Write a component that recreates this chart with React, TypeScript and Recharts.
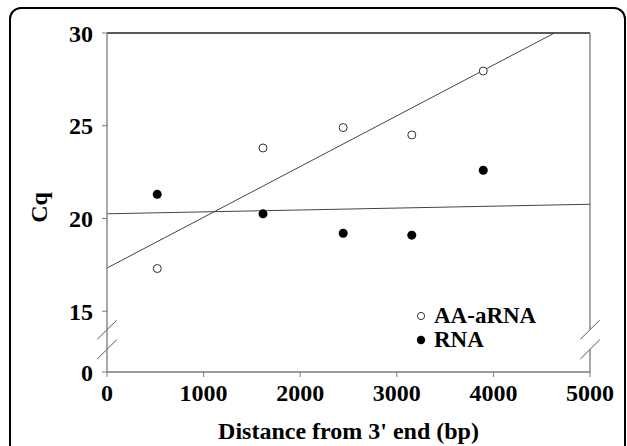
import React from 'react';
import { ScatterChart, Scatter, XAxis, YAxis, ReferenceLine, Legend } from 'recharts';

// ---- data ----
const distances = [520, 1615, 2445, 3155, 3895];
const aaRnaCq = [17.3, 23.8, 24.9, 24.5, 27.95];
const rnaCq = [21.3, 20.25, 19.2, 19.1, 22.6];
const xTicks = [0, 1000, 2000, 3000, 4000, 5000];
const yTicks = [15, 20, 25, 30];
const seriesNames = ['AA-aRNA', 'RNA'];
// position (in axis units) where the "0" label of the broken axis sits
const Y_BREAK_ZERO = 11.72;
const X_MAX = 5000;
const Y_MAX = 30;

const aaData = distances.map((x, i) => ({ x, y: aaRnaCq[i] }));
const rnaData = distances.map((x, i) => ({ x, y: rnaCq[i] }));

function fit(xs: number[], ys: number[]) {
  const n = xs.length;
  const mx = xs.reduce((a, b) => a + b, 0) / n;
  const my = ys.reduce((a, b) => a + b, 0) / n;
  let sxy = 0, sxx = 0;
  for (let i = 0; i < n; i++) {
    sxy += (xs[i] - mx) * (ys[i] - my);
    sxx += (xs[i] - mx) ** 2;
  }
  const m = sxy / sxx;
  return { m, b: my - m * mx };
}
function trendSegment(xs: number[], ys: number[]) {
  const { m, b } = fit(xs, ys);
  let x2 = X_MAX;
  let y2 = b + m * X_MAX;
  if (y2 > Y_MAX) { x2 = (Y_MAX - b) / m; y2 = Y_MAX; }
  return [{ x: 0, y: b }, { x: x2, y: y2 }];
}
const aaTrend = trendSegment(distances, aaRnaCq);
const rnaTrend = trendSegment(distances, rnaCq);

const FONT = '"Liberation Serif", "Times New Roman", serif';
const AXIS_GRAY = '#7a7a7a';
const LINE_COLOR = '#444';

// break-mark decoration (axis units)
const BRK_DX = 101;
const BRK_Y = [13.48, 12.42];
const BRK_H = 1.04;
const BRK_GAP = [12.94, 14.0];

const tickStyle = { fontSize: 24, fontWeight: 'bold', fill: '#000', fontFamily: FONT } as any;

const OpenDot = (p: any) => (
  <circle cx={p.cx} cy={p.cy} r={4} fill="#fff" stroke="#333" strokeWidth={1} />
);
const FilledDot = (p: any) => <circle cx={p.cx} cy={p.cy} r={4.5} fill="#000" />;

const LegendContent = () => (
  <div style={{ fontFamily: FONT, fontWeight: 'bold', fontSize: 23, color: '#000', lineHeight: '24px' }}>
    {seriesNames.map((name, i) => (
      <div key={name} style={{ display: 'flex', alignItems: 'center', height: 24 }}>
        <svg width={14} height={14} style={{ marginRight: 6 }}>
          {i === 0 ? (
            <circle cx={7} cy={7} r={3.6} fill="#fff" stroke="#333" strokeWidth={1} />
          ) : (
            <circle cx={7} cy={7} r={4.2} fill="#000" />
          )}
        </svg>
        <span>{name}</span>
      </div>
    ))}
  </div>
);

const CqLabel = (props: any) => {
  const vb = props.viewBox || {};
  const cx = (vb.x ?? 0) + 39;
  const cy = (vb.y ?? 0) + (vb.height ?? 0) / 2 + 5;
  return (
    <text
      x={cx}
      y={cy}
      transform={`rotate(-90 ${cx} ${cy})`}
      textAnchor="middle"
      dominantBaseline="central"
      style={{ fontFamily: FONT, fontWeight: 'bold', fontSize: 24, fill: '#000' }}
    >
      Cq
    </text>
  );
};

export default function App() {
  const breakLines: React.ReactNode[] = [];
  [0, X_MAX].forEach((bx) => {
    breakLines.push(
      <ReferenceLine
        key={`gap-${bx}`}
        ifOverflow="visible"
        segment={[{ x: bx, y: BRK_GAP[0] }, { x: bx, y: BRK_GAP[1] }]}
        stroke="#fff"
        strokeWidth={3}
      />
    );
    BRK_Y.forEach((by, j) => {
      breakLines.push(
        <ReferenceLine
          key={`brk-${bx}-${j}`}
          ifOverflow="visible"
          segment={[{ x: bx - BRK_DX, y: by }, { x: bx + BRK_DX, y: by + BRK_H }]}
          stroke="#555"
          strokeWidth={1}
        />
      );
    });
  });

  return (
    <div style={{ position: 'absolute', left: 0, top: 0, width: 627, height: 446, overflow: 'hidden', background: '#fff' }}>
      <div
        style={{
          position: 'absolute',
          left: 9,
          top: 7,
          width: 613,
          height: 480,
          border: '2px solid #000',
          borderRadius: 12,
          boxSizing: 'content-box',
        }}
      />
      <div style={{ position: 'absolute', left: 0, top: 0 }}>
        <ScatterChart width={627} height={446} margin={{ top: 33, right: 37, bottom: 0, left: 0 }}>
          <XAxis
            type="number"
            dataKey="x"
            domain={[0, X_MAX]}
            ticks={xTicks}
            allowDataOverflow
            height={74}
            tick={tickStyle}
            tickSize={5}
            tickMargin={7}
            axisLine={{ stroke: AXIS_GRAY, strokeWidth: 1.3 }}
            tickLine={{ stroke: AXIS_GRAY }}
            label={{
              value: "Distance from 3' end (bp)",
              position: 'insideBottom',
              offset: 7,
              style: { fontFamily: FONT, fontWeight: 'bold', fontSize: 24, fill: '#000' },
            }}
          />
          <YAxis
            type="number"
            dataKey="y"
            domain={[Y_BREAK_ZERO, Y_MAX]}
            ticks={[Y_BREAK_ZERO, ...yTicks]}
            tickFormatter={(v: number) => (v === Y_BREAK_ZERO ? '0' : String(v))}
            allowDataOverflow
            width={107}
            tick={tickStyle}
            tickSize={5}
            tickMargin={9}
            axisLine={{ stroke: AXIS_GRAY, strokeWidth: 1.3 }}
            tickLine={{ stroke: AXIS_GRAY }}
            label={<CqLabel />}
          />
          <ReferenceLine y={Y_MAX} stroke="#222" strokeWidth={1.3} />
          <ReferenceLine x={X_MAX} stroke={AXIS_GRAY} strokeWidth={1.3} />
          <ReferenceLine segment={aaTrend} stroke={LINE_COLOR} strokeWidth={1} />
          <ReferenceLine segment={rnaTrend} stroke={LINE_COLOR} strokeWidth={1} />
          {breakLines}
          <Scatter name={seriesNames[0]} data={aaData} shape={OpenDot} isAnimationActive={false} />
          <Scatter name={seriesNames[1]} data={rnaData} shape={FilledDot} isAnimationActive={false} />
          <Legend
            layout="vertical"
            align="center"
            verticalAlign="middle"
            content={<LegendContent />}
            wrapperStyle={{ left: 414, top: 304, width: 'auto' }}
          />
        </ScatterChart>
      </div>
    </div>
  );
}
